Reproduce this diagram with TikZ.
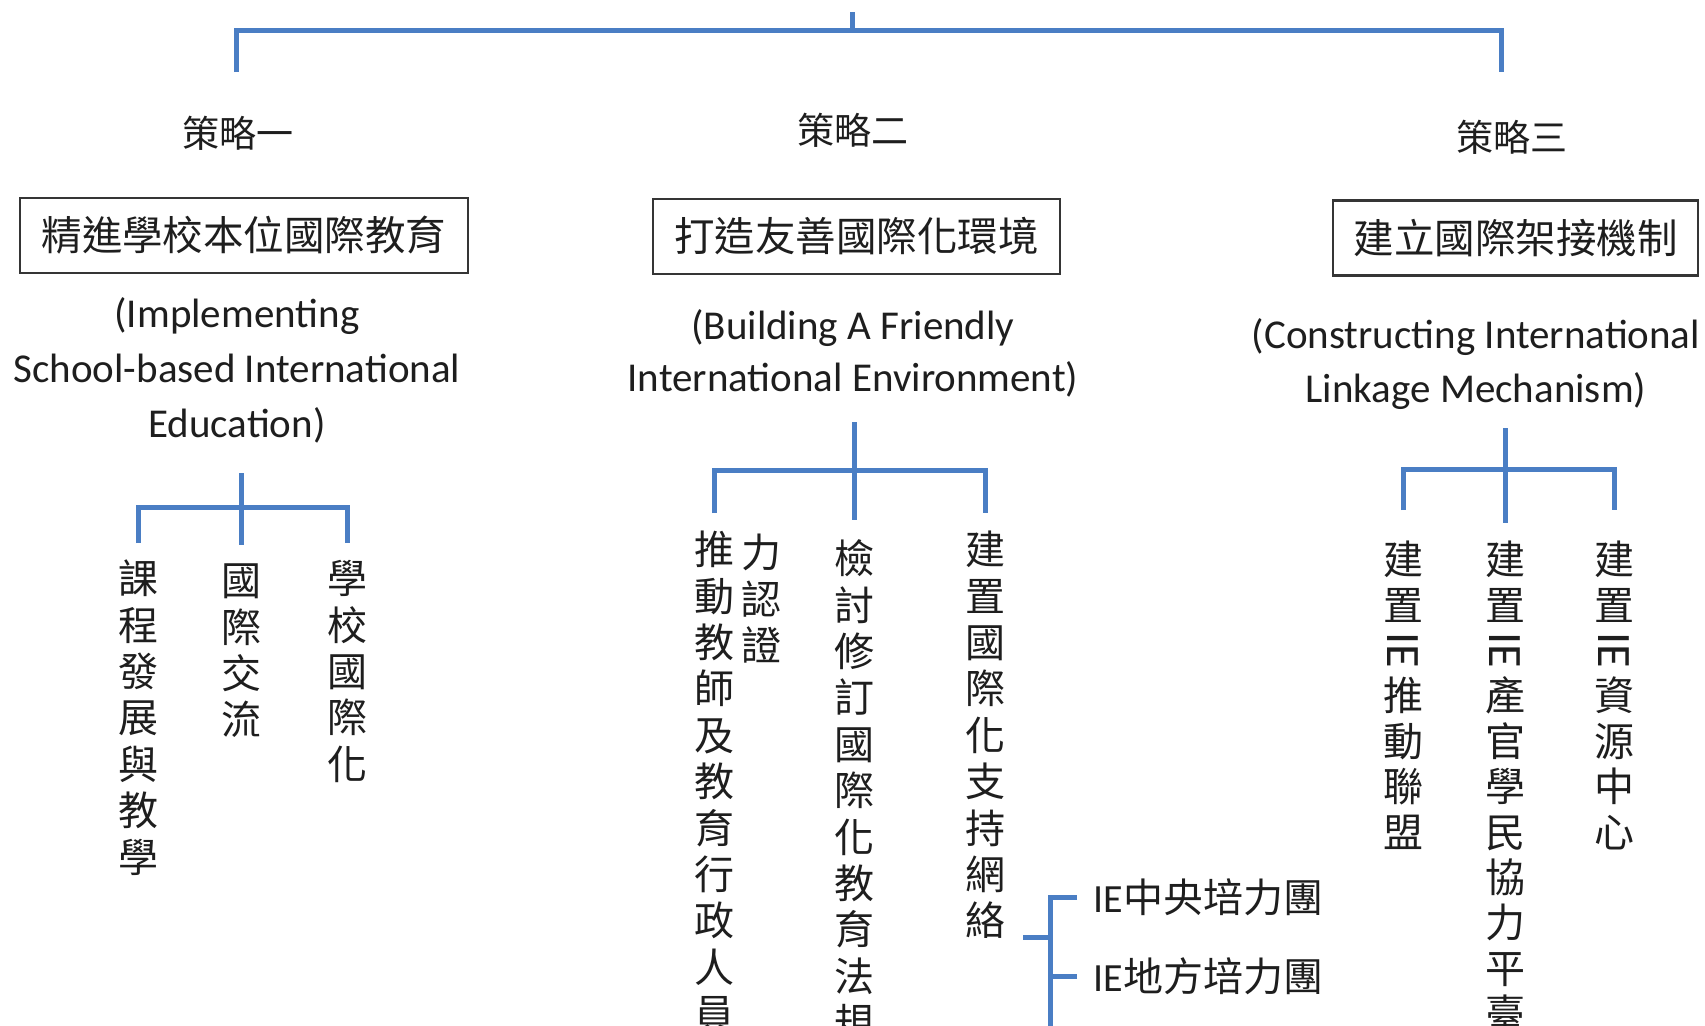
\documentclass[tikz,border=0pt]{standalone}
\usepackage{fontspec}
\usepackage{graphicx}
\newfontfamily\cjk{Noto Sans CJK TC}
\newfontfamily\en{Carlito}
\definecolor{treeblue}{HTML}{4A7EC4}
\definecolor{ink}{HTML}{1E1E1E}
\newcommand\firstrule{\rule{0pt}{0.88em}}
\newcommand\engrule{\rule{0pt}{0.8em}}
\newcommand\rotIE{\rotatebox[origin=c]{-90}{\en\fontsize{24pt}{24pt}\selectfont IE}}
\tikzset{
  tree/.style={draw=treeblue, line width=2.5pt, line join=miter},
  lbl/.style={font=\cjk\fontsize{18.5pt}{22pt}\selectfont, text=ink, inner sep=0pt},
  titlebox/.style={draw=ink!90, line width=1.3pt, font=\cjk\fontsize{20.25pt}{24pt}\selectfont, text=ink, inner sep=0pt, minimum height=37.5pt},
  eng/.style={font=\en\fontsize{20.5pt}{27pt}\selectfont, text=ink, align=center, inner sep=0pt, anchor=north},
  vcol/.style={font=\cjk\fontsize{20pt}{23.2pt}\selectfont, text=ink, align=center, inner sep=0pt, anchor=north},
  vcolb/.style={font=\cjk\fontsize{20pt}{22.7pt}\selectfont, text=ink, align=center, inner sep=0pt, anchor=north},
  sidetxt/.style={font=\cjk\fontsize{20pt}{24pt}\selectfont, text=ink, inner sep=0pt, anchor=west},
}
\begin{document}
\begin{tikzpicture}[x=0.5pt, y=-0.5pt]
\useasboundingbox (0,0) rectangle (1705,1025);
\fill[white] (0,0) rectangle (1705,1025);
\clip (0,0) rectangle (1705,1025);

% top level
\coordinate (top) at (852,12);
\coordinate (j0) at (852,30);
\coordinate (d1) at (236,72);
\coordinate (d3) at (1501,72);
\draw[tree] (top) -- (j0);
\draw[tree] (d1) |- (j0) -| (d3);

% strategy labels
\node[lbl] (s1) at (238,133) {策略一};
\node[lbl] (s2) at (853,130) {策略二};
\node[lbl] (s3) at (1512,137) {策略三};

% title boxes
\node[titlebox, minimum width=224pt] (b1) at (244,235.5) {精進學校本位國際教育};
\node[titlebox, minimum width=203.5pt] (b2) at (856.5,236.5) {打造友善國際化環境};
\node[titlebox, minimum width=182.5pt] (b3) at (1515.5,238) {建立國際架接機制};

% english
\node[eng, font=\en\fontsize{20.5pt}{27.5pt}\selectfont] (e1) at (237,294) {\engrule(Implementing\\School-based International\\Education)};
\node[eng, font=\en\fontsize{20.5pt}{26pt}\selectfont] (e2) at (853,306) {\engrule(Building A Friendly\\International Environment)};
\node[eng] (e3) at (1476,315) {\engrule(Constructing International\\Linkage Mechanism)};

% subtree 1
\coordinate (t1) at (241,473);
\coordinate (t1b) at (241,545);
\coordinate (t1m) at (241,507);
\coordinate (t1l) at (138,543);
\coordinate (t1r) at (347,543);
\draw[tree] (t1) -- (t1b);
\draw[tree] (t1l) |- (t1m) -| (t1r);
\node[vcol] (c1a) at (138,558) {\firstrule 課\\程\\發\\展\\與\\教\\學};
\node[vcol] (c1b) at (241,560) {\firstrule 國\\際\\交\\流};
\node[vcol] (c1c) at (347,558) {\firstrule 學\\校\\國\\際\\化};

% subtree 2
\coordinate (t2) at (854,422);
\coordinate (t2b) at (854,520);
\coordinate (t2m) at (854,470);
\coordinate (t2l) at (714,513);
\coordinate (t2r) at (985,513);
\draw[tree] (t2) -- (t2b);
\draw[tree] (t2l) |- (t2m) -| (t2r);
\node[vcol] (c2a) at (714,529) {\firstrule 推\\動\\教\\師\\及\\教\\育\\行\\政\\人\\員};
\node[vcol] (c2b) at (761,532) {\firstrule 力\\認\\證};
\node[vcol] (c2c) at (854,538) {\firstrule 檢\\討\\修\\訂\\國\\際\\化\\教\\育\\法\\規};
\node[vcol] (c2d) at (985,529) {\firstrule 建\\置\\國\\際\\化\\支\\持\\網\\絡};

% bracket
\coordinate (kA) at (1077,897);
\coordinate (kB) at (1077,976);
\coordinate (kS) at (1023,937);
\coordinate (kE) at (1050,1035);
\draw[tree] (kA) -| (kE);
\draw[tree] (kS) -- (kS -| kE);
\draw[tree] (kB) -- (kB -| kE);
\node[sidetxt] (ie1) at (1093,897) {{\en IE}中央培力團};
\node[sidetxt] (ie2) at (1093,976) {{\en IE}地方培力團};

% subtree 3
\coordinate (t3) at (1505,428);
\coordinate (t3b) at (1505,523);
\coordinate (t3m) at (1505,469);
\coordinate (t3l) at (1403,510);
\coordinate (t3r) at (1614,510);
\draw[tree] (t3) -- (t3b);
\draw[tree] (t3l) |- (t3m) -| (t3r);
\node[vcolb] (c3a) at (1403,539) {\firstrule 建\\置\\\rotIE\\推\\動\\聯\\盟};
\node[vcolb] (c3b) at (1505,539) {\firstrule 建\\置\\\rotIE\\產\\官\\學\\民\\協\\力\\平\\臺};
\node[vcolb] (c3c) at (1614,539) {\firstrule 建\\置\\\rotIE\\資\\源\\中\\心};
\end{tikzpicture}
\end{document}
